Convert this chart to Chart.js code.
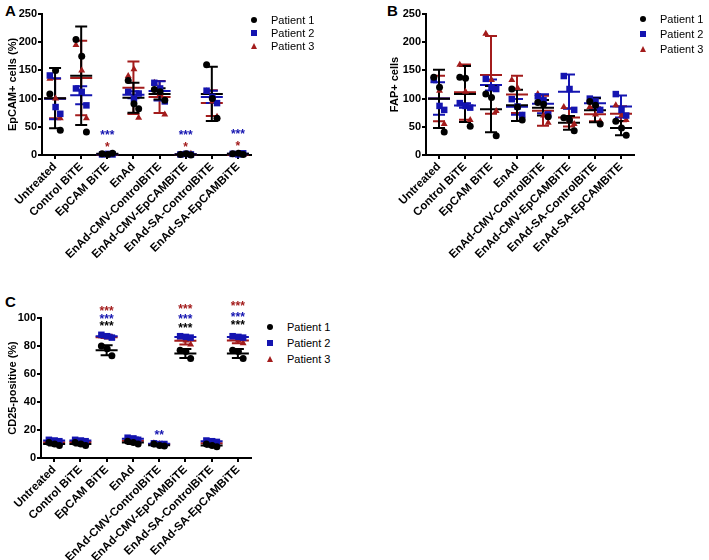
<!DOCTYPE html>
<html>
<head>
<meta charset="utf-8">
<script src="https://cdn.jsdelivr.net/npm/chart.js@4"></script>
<style>
  body { margin: 0; background: #fff; font-family: "Liberation Sans", Arial, sans-serif; }
  #page { position: relative; width: 709px; height: 560px; overflow: hidden; }
  canvas { position: absolute; }
  .letter { position: absolute; font-weight: bold; font-size: 15px; line-height: 15px; color: #000; }
  .ltext { position: absolute; font-size: 11px; line-height: 12px; color: #000; white-space: nowrap; }
  .mark { position: absolute; }
</style>
</head>
<body>
<div id="page">
  <div class="letter" style="left:5px;top:3px">A</div>
  <div class="letter" style="left:387px;top:3px">B</div>
  <div class="letter" style="left:5px;top:294px">C</div>
  <canvas id="chartA" width="262" height="280" style="left:0;top:0"></canvas>
  <canvas id="chartB" width="264" height="280" style="left:380px;top:0"></canvas>
  <canvas id="chartC" width="262" height="275" style="left:0;top:285px"></canvas>
</div>
<script>
const categories = ["Untreated", "Control BiTE", "EpCAM BiTE", "EnAd",
    "EnAd-CMV-ControlBiTE", "EnAd-CMV-EpCAMBiTE", "EnAd-SA-ControlBiTE", "EnAd-SA-EpCAMBiTE"];
const patients = ["Patient 1", "Patient 2", "Patient 3"];

// A - EpCAM+ cells (%), 3 replicates per condition
const epcamP1 = [[108, 150, 44], [205, 175, 41], [2, 1, 3], [132, 91, 82], [116, 112, 97], [1, 2, 0], [160, 100, 65], [2, 3, 1]];
const epcamP2 = [[141, 85, 73], [118, 112, 88], [1, 2, 1], [112, 100, 109], [128, 118, 95], [1, 2, 1], [114, 103, 92], [2, 1, 3]];
const epcamP3 = [[135, 100, 65], [195, 150, 65], [1, 0, 2], [140, 152, 66], [128, 108, 72], [1, 0, 2], [113, 95, 68], [1, 2, 0]];
const epcamTicks = [0, 50, 100, 150, 200, 250];
// [condition, y, text, patient]
const epcamStars = [[2, 40, "***", 1], [2, 20, "*", 2], [5, 40, "***", 1], [5, 20, "*", 2], [7, 43, "***", 1], [7, 21, "*", 2]];

// B - FAP+ cells
const fapP1 = [[138, 120, 41], [138, 136, 51], [108, 102, 34], [117, 85, 62], [93, 90, 68], [66, 62, 43], [95, 88, 55], [60, 48, 35]];
const fapP2 = [[133, 87, 80], [92, 87, 84], [135, 120, 117], [99, 86, 71], [104, 97, 72], [140, 117, 80], [100, 95, 80], [108, 80, 70]];
const fapP3 = [[132, 114, 55], [160, 112, 62], [215, 133, 78], [133, 119, 70], [108, 70, 57], [85, 60, 55], [85, 72, 60], [88, 70, 62]];
const fapTicks = [0, 50, 100, 150, 200, 250];

// C - CD25-positive (%)
const cd25P1 = [[11, 10, 9], [11, 10, 9], [80, 78, 73], [12, 11, 10], [10, 9, 8.5], [77, 76, 71], [10, 9, 8], [77, 76, 71]];
const cd25P2 = [[13, 12.5, 12], [13, 12.5, 12], [88, 87, 86], [14.5, 14, 13], [10.5, 10, 10], [87, 86.5, 86], [12.5, 12, 11.5], [87, 86.5, 86]];
const cd25P3 = [[12, 11, 10.5], [12, 11.5, 11], [87, 86, 86], [13, 12, 12], [10.5, 10, 9.5], [86, 84, 81], [11, 10.5, 10], [86, 84, 82]];
const cd25Ticks = [0, 20, 40, 60, 80, 100];
const cd25Stars = [[2, 107, "***", 2], [2, 101.5, "***", 1], [2, 96.5, "***", 0],
    [4, 18.5, "**", 1],
    [5, 108.5, "***", 2], [5, 101.5, "***", 1], [5, 95, "***", 0],
    [7, 110.5, "***", 2], [7, 103, "***", 1], [7, 97, "***", 0]];

const colors = ["#000000", "#1414b0", "#a31c1c"];
const shapes = ["circle", "rect", "triangle"];
const radii = [3.5, 4.6, 4];
const jitter = [-0.2, 0.02, 0.2];

Chart.defaults.font.family = '"Liberation Sans", Arial, sans-serif';
Chart.defaults.color = "#000";

function mean(a) { return a.reduce((s, v) => s + v, 0) / a.length; }
function sd(a) {
    const m = mean(a);
    return Math.sqrt(a.reduce((s, v) => s + (v - m) * (v - m), 0) / (a.length - 1));
}

// mean line + SD whiskers for each patient, drawn under the points
function meanSdPlugin(values) {
    return {
        id: "meanSd",
        beforeDatasetsDraw(chart) {
            const { ctx } = chart;
            const xs = chart.scales.x, ys = chart.scales.y;
            ctx.save();
            ctx.lineWidth = 2;
            for (let p = values.length - 1; p >= 0; p--) {
                ctx.strokeStyle = colors[p];
                values[p].forEach((reps, c) => {
                    const m = mean(reps), s = sd(reps);
                    const x = xs.getPixelForValue(c);
                    const top = ys.getPixelForValue(m + s);
                    const bot = ys.getPixelForValue(m - s);
                    const mid = ys.getPixelForValue(m);
                    ctx.beginPath();
                    ctx.moveTo(x, top); ctx.lineTo(x, bot);
                    ctx.moveTo(x - 6, top); ctx.lineTo(x + 6, top);
                    ctx.moveTo(x - 6, bot); ctx.lineTo(x + 6, bot);
                    ctx.moveTo(x - 11, mid); ctx.lineTo(x + 11, mid);
                    ctx.stroke();
                });
            }
            ctx.restore();
        }
    };
}

function starsPlugin(stars) {
    return {
        id: "stars",
        afterDraw(chart) {
            const { ctx } = chart;
            ctx.save();
            ctx.font = "bold 12px 'Liberation Sans', Arial, sans-serif";
            ctx.textAlign = "center";
            ctx.textBaseline = "alphabetic";
            stars.forEach(([c, y, text, p]) => {
                ctx.fillStyle = colors[p];
                ctx.fillText(text, chart.scales.x.getPixelForValue(c), chart.scales.y.getPixelForValue(y) + 7);
            });
            ctx.restore();
        }
    };
}

function makeChart(id, values, yTicks, yTitle, stars, box) {
    const datasets = values.map((vals, p) => ({
        label: patients[p],
        data: vals.flatMap((reps, c) => reps.map((v, r) => ({ x: c + jitter[r], y: v }))),
        pointStyle: shapes[p],
        pointRadius: radii[p],
        backgroundColor: colors[p],
        borderColor: colors[p],
        borderWidth: 0,
        clip: false
    }));

    return new Chart(document.getElementById(id), {
        type: "scatter",
        data: { datasets },
        options: {
            responsive: false,
            animation: false,
            layout: { padding: { top: box.top, right: box.right, left: 0, bottom: 0 } },
            plugins: {
                legend: { display: false },
                tooltip: { enabled: false }
            },
            scales: {
                x: {
                    type: "linear",
                    min: -0.5,
                    max: categories.length - 0.5,
                    afterBuildTicks: s => { s.ticks = categories.map((c, i) => ({ value: i })); },
                    afterFit: s => { s.height = box.xHeight; },
                    ticks: {
                        callback: v => categories[v],
                        minRotation: 45,
                        maxRotation: 45,
                        autoSkip: false,
                        padding: 1,
                        color: "#000",
                        font: { weight: "bold", size: 11.5 }
                    },
                    grid: { drawOnChartArea: false, color: "#000", lineWidth: 2, tickLength: 4 },
                    border: { color: "#000", width: 2 }
                },
                y: {
                    min: yTicks[0],
                    max: yTicks[yTicks.length - 1],
                    afterBuildTicks: s => { s.ticks = yTicks.map(v => ({ value: v })); },
                    afterFit: s => { s.width = box.yWidth; },
                    ticks: { padding: 1, color: "#000", font: { weight: "bold", size: 11 } },
                    title: {
                        display: true,
                        text: yTitle,
                        color: "#000",
                        font: { weight: "bold", size: 11 },
                        padding: { top: box.titlePad, bottom: 0 }
                    },
                    grid: { drawOnChartArea: false, color: "#000", lineWidth: 2, tickLength: 4 },
                    border: { color: "#000", width: 2 }
                }
            }
        },
        plugins: [meanSdPlugin(values), starsPlugin(stars)]
    });
}

function addLegend(markX, textX, firstY, step) {
    const page = document.getElementById("page");
    patients.forEach((name, p) => {
        const y = firstY + p * step;
        const mark = document.createElement("div");
        mark.className = "mark";
        if (shapes[p] === "triangle") {
            mark.style.cssText = `left:${markX - 3.5}px;top:${y - 3}px;width:0;height:0;` +
                `border-left:3.5px solid transparent;border-right:3.5px solid transparent;border-bottom:6px solid ${colors[p]};`;
        } else {
            mark.style.cssText = `left:${markX - 3}px;top:${y - 3}px;width:6px;height:6px;background:${colors[p]};` +
                (shapes[p] === "circle" ? "border-radius:50%;" : "");
        }
        page.appendChild(mark);

        const label = document.createElement("div");
        label.className = "ltext";
        label.style.left = textX + "px";
        label.style.top = (y - 6) + "px";
        label.innerText = name;
        page.appendChild(label);
    });
}

makeChart("chartA", [epcamP1, epcamP2, epcamP3], epcamTicks, "EpCAM+ cells (%)", epcamStars,
    { top: 14, right: 11, xHeight: 125, yWidth: 42, titlePad: 6 });
makeChart("chartB", [fapP1, fapP2, fapP3], fapTicks, "FAP+ cells", [],
    { top: 14, right: 10, xHeight: 125, yWidth: 46, titlePad: 8 });
makeChart("chartC", [cd25P1, cd25P2, cd25P3], cd25Ticks, "CD25-positive (%)", cd25Stars,
    { top: 33, right: 11, xHeight: 102, yWidth: 41, titlePad: 6 });

addLegend(254, 271, 20, 13);
addLegend(643, 660, 19, 15);
addLegend(270, 287, 327, 16);
</script>
</body>
</html>
